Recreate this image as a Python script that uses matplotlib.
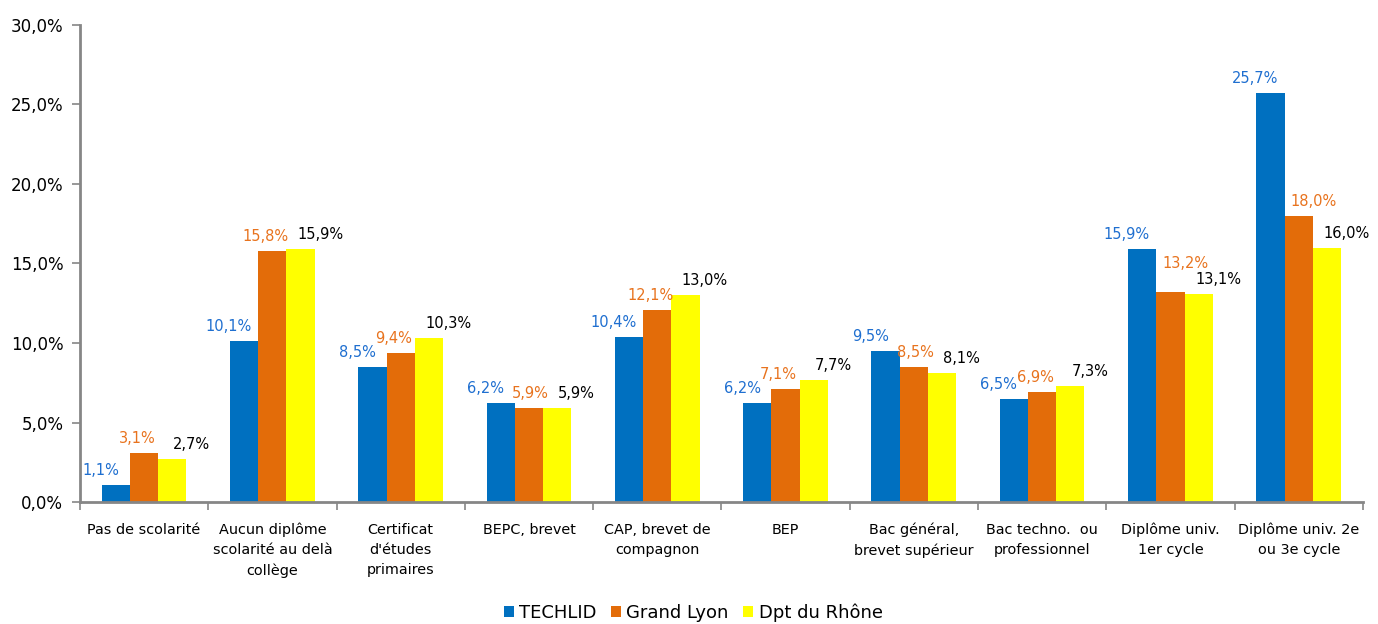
import numpy as np
import matplotlib.pyplot as plt
from matplotlib.ticker import FuncFormatter, FixedLocator

# catégories et valeurs (%)
categories = ['Pas de scolarité', 'Aucun diplôme\nscolarité au delà\ncollège',
              'Certificat\nd\'études\nprimaires', 'BEPC, brevet',
              'CAP, brevet de\ncompagnon', 'BEP', 'Bac général,\nbrevet supérieur',
              'Bac techno.  ou\nprofessionnel', 'Diplôme univ.\n1er cycle',
              'Diplôme univ. 2e\nou 3e cycle']
techlid = [1.1, 10.1, 8.5, 6.2, 10.4, 6.2, 9.5, 6.5, 15.9, 25.7]
grand_lyon = [3.1, 15.8, 9.4, 5.9, 12.1, 7.1, 8.5, 6.9, 13.2, 18.0]
rhone = [2.7, 15.9, 10.3, 5.9, 13.0, 7.7, 8.1, 7.3, 13.1, 16.0]

series = [
    ('TECHLID', techlid, '#0070C0', '#1F6FD0'),
    ('Grand Lyon', grand_lyon, '#E36C09', '#E8731E'),
    ('Dpt du Rhône', rhone, '#FFFF00', '#000000'),
]

plt.rcParams['font.family'] = ['DejaVu Sans']

fig = plt.figure(figsize=(13.78, 6.24), dpi=100)
ax = fig.add_axes([0.058, 0.1955, 0.931, 0.7645])

x = np.arange(len(categories))
w = 0.22


def label_offset(i, k):
    # décalage des étiquettes (en points) pour éviter les chevauchements
    if i == 0:
        return -11, 5
    if i == 1:
        if techlid[k] > grand_lyon[k] + 2:
            dy = 15 if abs(grand_lyon[k] - rhone[k]) < 1 else 5
            return 11, dy
        if techlid[k] > grand_lyon[k]:
            return 1, 5
        return -5, 5
    return 14, 5


for i, (name, vals, color, lab_color) in enumerate(series):
    pos = x + (i - 1) * w
    ax.bar(pos, vals, width=w, color=color, label=name, zorder=2)
    for k, (px, v) in enumerate(zip(pos, vals)):
        ax.annotate(f'{v:.1f}%'.replace('.', ','), (px, v), xytext=label_offset(i, k),
                    textcoords='offset points', ha='center', va='bottom',
                    fontsize=10.5, color=lab_color, zorder=5)

# axes
ax.set_xlim(-0.5, len(categories) - 0.5)
ax.set_ylim(0, 30)
ax.set_yticks(np.arange(0, 31, 5))
ax.yaxis.set_major_formatter(FuncFormatter(lambda v, p: f'{v:.1f}%'.replace('.', ',')))
ax.set_xticks(x)
ax.set_xticklabels(categories, fontsize=10.4, linespacing=1.55, va='top')
ax.xaxis.set_minor_locator(FixedLocator(np.arange(-0.5, len(categories), 1)))
ax.tick_params(axis='x', which='major', length=0, pad=15)
ax.tick_params(axis='x', which='minor', length=6, width=1.2, color='#868686')
ax.tick_params(axis='y', length=6, width=1.2, color='#868686', labelsize=12, pad=6)

for s in ['top', 'right']:
    ax.spines[s].set_visible(False)
for s in ['left', 'bottom']:
    ax.spines[s].set_color('#868686')
    ax.spines[s].set_linewidth(2)

fig.legend(loc='center', bbox_to_anchor=(0.503, 0.018), ncol=3, frameon=False,
           fontsize=13, handlelength=0.55, handleheight=0.55, handletextpad=0.3,
           columnspacing=0.8)

plt.savefig('out.png')
plt.close()
